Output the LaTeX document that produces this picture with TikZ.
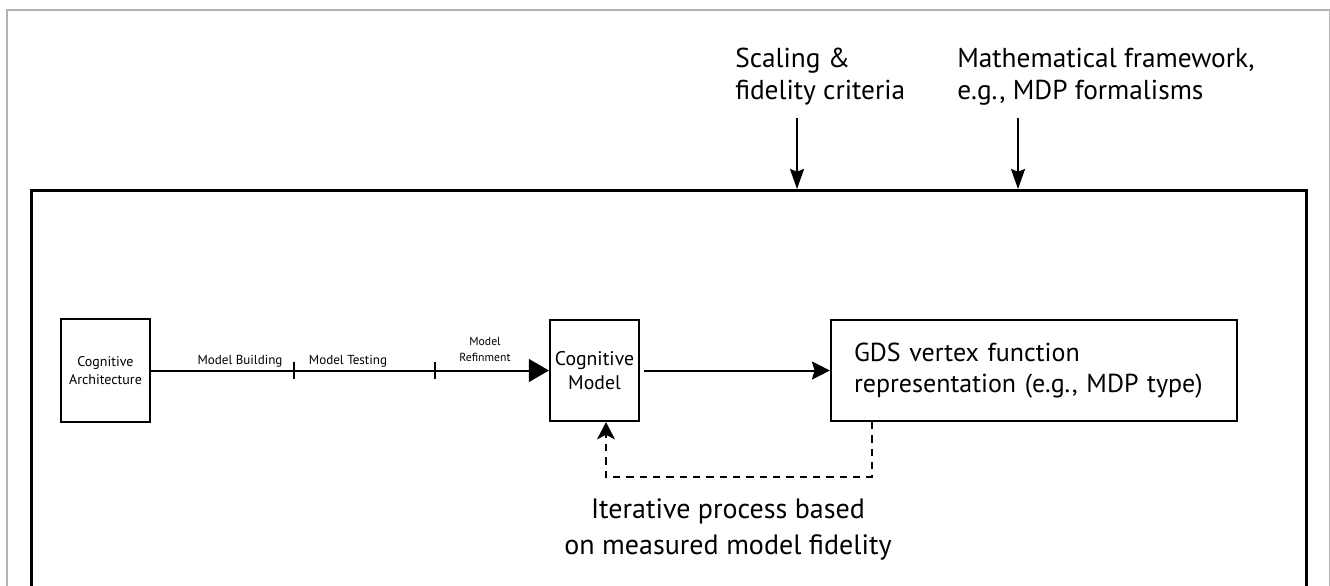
\documentclass[tikz,border=0pt]{standalone}
\usepackage{fontspec}
\setmainfont{PT Sans}
\usetikzlibrary{arrows.meta,calc}
\begin{document}
\begin{tikzpicture}[x=0.75pt,y=-0.75pt,
  box/.style={draw,line width=1.6pt,inner sep=0pt,align=center},
  lbl/.style={inner sep=0pt,align=left},
  conn/.style={line width=1.5pt},
  bigtip/.style={-{Triangle[length=15pt,width=17pt]}},
  midtip/.style={-{Stealth[length=13.5pt,width=13.5pt,inset=2pt]}},
  toptip/.style={-{Stealth[length=15pt,width=10.5pt,inset=2pt]}},
  dashtip/.style={-{Stealth[length=13pt,width=13.5pt,inset=3.5pt]}},
  tick/.style={line width=1.5pt}
]
\useasboundingbox (0,0) rectangle (1330,585);
\clip (0,0) rectangle (1330,585);
\draw[gray!60,line width=1.2pt] (7,10) rectangle (1329.5,700);
\node[draw,line width=2pt,minimum width=1275*0.75pt,minimum height=450*0.75pt,inner sep=0pt,anchor=north west] (frame) at (30,189) {};

% top labels
\node[lbl,anchor=west,font=\fontsize{20.5}{24}\selectfont] (scal) at (735,77) {Scaling \&\\fidelity criteria};
\node[lbl,anchor=west,font=\fontsize{20.5}{24}\selectfont] (math) at (957,77) {Mathematical framework,\\e.g., MDP formalisms};
\coordinate (a1) at (797,118);
\coordinate (a2) at (1018,118);
\draw[conn,toptip] (a1) -- (a1 |- frame.north);
\draw[conn,toptip] (a2) -- (a2 |- frame.north);

% boxes
\node[box,minimum width=89*0.75pt,minimum height=103*0.75pt,font=\fontsize{10.5}{13.5}\selectfont] (ca) at (105.5,370.5) {Cognitive\\Architecture};
\node[box,minimum width=89*0.75pt,minimum height=101*0.75pt,font=\fontsize{14.8}{17.5}\selectfont] (cm) at (594.5,370.5) {Cognitive\\Model};
\node[box,minimum height=101*0.75pt,text width=360*0.75pt,inner xsep=23*0.75pt,align=left,font=\fontsize{19.5}{23}\selectfont] (gds) at (1034,370.5) {GDS vertex function\\representation (e.g., MDP type)};

% main line with ticks
\draw[conn,bigtip] (ca.east) -- (cm.west);
\coordinate (t1) at (294,371);
\coordinate (t2) at (435,371);
\draw[tick] ($(t1)+(0,-9)$) -- ($(t1)+(0,8)$);
\draw[tick] ($(t2)+(0,-9)$) -- ($(t2)+(0,8)$);
\node[inner sep=0pt,font=\fontsize{9.8}{12}\selectfont] (mb) at (240,361) {Model Building};
\node[inner sep=0pt,font=\fontsize{9.8}{12}\selectfont] (mt) at (348,361) {Model Testing};
\node[inner sep=0pt,align=center,font=\fontsize{8.8}{12}\selectfont] (mr) at (485,349) {Model\\Refinment};

% cm -> gds
\draw[conn,midtip,shorten <=3pt] (cm.east) -- (gds.west);

% dashed feedback
\coordinate (d1) at (872,477);
\coordinate (d2) at (606,477);
\draw[conn,dashed,dash pattern=on 5.5pt off 4.5pt,dashtip] (d1 |- gds.south) -- (d1) -- (d2) -- (d2 |- cm.south);
\node[inner sep=0pt,align=center,font=\fontsize{21}{26.5}\selectfont] (iter) at (728,529.5) {Iterative process based\\on measured model fidelity};
\end{tikzpicture}
\end{document}
